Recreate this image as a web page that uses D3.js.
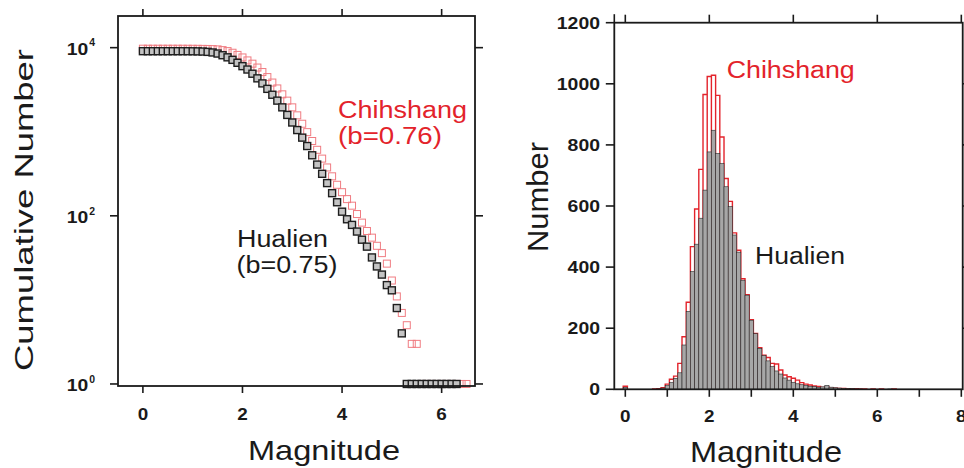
<!DOCTYPE html>
<html><head><meta charset="utf-8">
<script src="https://cdn.jsdelivr.net/npm/d3@7"></script>
<style>body{margin:0;background:#fff}svg{display:block}</style>
</head><body>
<svg id="c" width="964" height="468"></svg>
<script>
// ---------- DATA ----------
// Left panel: cumulative number N(>=M)
const cumMagHualien = [0.0,0.1,0.2,0.3,0.4,0.5,0.6,0.7,0.8,0.9,1.0,1.1,1.2,1.3,1.4,1.5,1.6,1.7,1.8,1.9,2.0,2.1,2.2,2.3,2.4,2.5,2.6,2.7,2.8,2.9,3.0,3.1,3.2,3.3,3.4,3.5,3.6,3.7,3.8,3.9,4.0,4.1,4.2,4.3,4.4,4.5,4.6,4.7,4.8,4.9,5.0,5.1,5.2,5.3,5.4,5.5,5.6,5.7,5.8,5.9,6.0,6.1,6.2,6.3];
const cumHualien = [9080,9074,9074,9074,9074,9074,9074,9074,9073,9069,9057,9036,8995,8913,8770,8511,8128,7674,7161,6607,6026,5495,4898,4315,3758,3236,2754,2344,1950,1585,1288,1047,851,676,525,407,316,245,186,145,112,91,78,65,52,43,32,25,20,15,13,8,4,1,1,1,1,1,1,1,1,1,1,1];
const cumMagChihshang = [0.0,0.1,0.2,0.3,0.4,0.5,0.6,0.7,0.8,0.9,1.0,1.1,1.2,1.3,1.4,1.5,1.6,1.7,1.8,1.9,2.0,2.1,2.2,2.3,2.4,2.5,2.6,2.7,2.8,2.9,3.0,3.1,3.2,3.3,3.4,3.5,3.6,3.7,3.8,3.9,4.0,4.1,4.2,4.3,4.4,4.5,4.6,4.7,4.8,4.9,5.0,5.1,5.2,5.3,5.4,5.5,5.6,5.7,5.8,5.9,6.0,6.1,6.2,6.3,6.4,6.5];
const cumChihshang = [9720,9712,9712,9712,9712,9712,9712,9711,9709,9705,9698,9688,9670,9650,9610,9540,9350,9100,8700,8200,7650,7050,6450,5800,5129,4467,3846,3273,2786,2344,1950,1567,1245,989,776,610,479,376,295,234,191,158,132,105,83,66,55,44,36,27,17,11,7,5,3,3,1,1,1,1,1,1,1,1,1,1];

// Right panel: histogram, bins of 0.1 centred on these magnitudes
const histBins = [0.0,0.1,0.2,0.3,0.4,0.5,0.6,0.7,0.8,0.9,1.0,1.1,1.2,1.3,1.4,1.5,1.6,1.7,1.8,1.9,2.0,2.1,2.2,2.3,2.4,2.5,2.6,2.7,2.8,2.9,3.0,3.1,3.2,3.3,3.4,3.5,3.6,3.7,3.8,3.9,4.0,4.1,4.2,4.3,4.4,4.5,4.6,4.7,4.8,4.9,5.0,5.1,5.2,5.3,5.4,5.5,5.6,5.7,5.8,5.9,6.0,6.1,6.2,6.3,6.4];
const histHualien = [6,0,0,0,0,0,0,0,1,4,12,22,36,54,145,255,385,475,560,652,777,848,772,739,663,598,505,449,357,308,226,182,134,110,93,74,60,50,37,30,23,18,15,13,10,9,6,8,13,7,5,4,3,2,2,1,1,0,0,0,0,0,0,1,0];
const histChihshang = [10,0,0,0,0,0,0,1,2,5,17,33,43,85,172,285,467,590,720,965,1024,1028,962,826,690,615,512,455,362,310,228,183,136,112,104,85,83,63,47,41,36,30,22,17,14,11,9,6,8,5,4,3,3,2,2,2,1,1,0,1,0,1,0,0,1];

// Tick labels
const leftXTicks = [0,2,4,6];
const leftYTicks = [1,100,10000];
const leftYExp = ["0","2","4"];
const rightXMajor = [0,2,4,6,8];
const rightXMinor = [0,1,2,3,4,5,6,7,8];
const rightYTicks = [0,200,400,600,800,1000,1200];

// ---------- DRAW ----------
const FONT = "'Liberation Sans', Arial, Helvetica, sans-serif";
const svg = d3.select("#c").attr("font-family", FONT);
const RED = "#e3232b";
const INK = "#1a1a1a";

function line(g, x1,y1,x2,y2,w){
  g.append("line").attr("x1",x1).attr("y1",y1).attr("x2",x2).attr("y2",y2)
   .attr("stroke",INK).attr("stroke-width",w||1.6);
}
function txt(g, s, x, y, o){
  const t = g.append("text").attr("x",x).attr("y",y).text(s)
    .attr("font-size",o.size).attr("fill",o.fill||INK)
    .attr("text-anchor",o.anchor||"start");
  if(o.bold) t.attr("font-weight","bold");
  if(o.len) t.attr("textLength",o.len).attr("lengthAdjust","spacingAndGlyphs");
  if(o.transform) t.attr("transform",o.transform);
  return t;
}

// ===== Left panel =====
const xL = d3.scaleLinear().domain([-0.5, 6.67]).range([118, 475]);
const yL = d3.scaleLog().domain([0.946, 23800]).range([386, 16]);
const gL = svg.append("g");

// markers: Chihshang (hollow red) below, Hualien (grey) on top
const S = 7;
gL.append("g").selectAll("rect").data(cumMagChihshang.map((m,i)=>[m,cumChihshang[i]]))
  .join("rect")
  .attr("x",d=>xL(d[0])-S/2).attr("y",d=>yL(d[1])-S/2)
  .attr("width",S).attr("height",S)
  .attr("fill","none").attr("stroke","#f07c82").attr("stroke-width",1);
gL.append("g").selectAll("rect").data(cumMagHualien.map((m,i)=>[m,cumHualien[i]]))
  .join("rect")
  .attr("x",d=>xL(d[0])-S/2).attr("y",d=>yL(d[1])-S/2)
  .attr("width",S).attr("height",S)
  .attr("fill","#c4c4c4").attr("stroke","#1e1e1e").attr("stroke-width",1.4);

// frame
gL.append("rect").attr("x",xL.range()[0]).attr("y",yL.range()[1])
  .attr("width",xL.range()[1]-xL.range()[0]).attr("height",yL.range()[0]-yL.range()[1])
  .attr("fill","none").attr("stroke",INK).attr("stroke-width",1.8);
// ticks
leftXTicks.forEach(v=>{
  line(gL, xL(v), yL.range()[0], xL(v), yL.range()[0]+7);
  line(gL, xL(v), yL.range()[1], xL(v), yL.range()[1]-7);
  txt(gL, String(v), xL(v), 420, {size:16,bold:true,anchor:"middle",len:10.5});
});
leftYTicks.forEach((v,i)=>{
  line(gL, xL.range()[0]-8, yL(v), xL.range()[0], yL(v));
  line(gL, xL.range()[1], yL(v), xL.range()[1]+8, yL(v));
  txt(gL, "10", 88.3, yL(v)+7, {size:17,bold:true,anchor:"end",len:21.5});
  txt(gL, leftYExp[i], 89.3, yL(v)-1.2, {size:10,bold:true,len:5.8});
});
// titles
txt(gL, "Cumulative Number", 0, 0, {size:25, anchor:"middle", len:322, transform:"translate(33.3,210) rotate(-90)"});
txt(gL, "Magnitude", 324, 460, {size:28, anchor:"middle", len:152});
// annotations
txt(gL, "Chihshang", 338, 118, {size:23, fill:RED, len:129});
txt(gL, "(b=0.76)", 338, 144, {size:23, fill:RED, len:104});
txt(gL, "Hualien", 237, 246.5, {size:23, len:91});
txt(gL, "(b=0.75)", 236.5, 273, {size:23, len:101});

// ===== Right panel =====
const xR = d3.scaleLinear().domain([-0.262, 8.033]).range([614.3, 962.7]);
const yR = d3.scaleLinear().domain([0, 1200]).range([389.3, 22.7]);
const gR = svg.append("g");
const hw = 0.05;

// Chihshang: red outlined bars (drawn first)
const redPath = d3.path();
histBins.forEach((c,i)=>{
  const v = histChihshang[i];
  if(v<=0) return;
  const x0 = xR(c-hw), x1 = xR(c+hw), y0 = yR(0), y1 = yR(v);
  redPath.rect(x0, y1, x1-x0, y0-y1);
});
gR.append("path").attr("d",redPath.toString()).attr("fill","none")
  .attr("stroke",RED).attr("stroke-width",1.4);

// Hualien: grey bars on top
gR.append("g").selectAll("rect").data(histBins.map((c,i)=>[c,histHualien[i]]).filter(d=>d[1]>0))
  .join("rect")
  .attr("x",d=>xR(d[0]-hw)).attr("y",d=>yR(d[1]))
  .attr("width",d=>xR(d[0]+hw)-xR(d[0]-hw)).attr("height",d=>yR(0)-yR(d[1]))
  .attr("fill","#a7a7a7").attr("stroke","#2a2a2a").attr("stroke-width",0.6);

// frame
gR.append("rect").attr("x",xR.range()[0]).attr("y",yR.range()[1])
  .attr("width",xR.range()[1]-xR.range()[0]).attr("height",yR.range()[0]-yR.range()[1])
  .attr("fill","none").attr("stroke",INK).attr("stroke-width",1.8);
line(gR, xR.range()[0], yR.range()[1], xR.range()[0], yR.range()[1]-8.5);
rightXMinor.forEach(v=>{
  line(gR, xR(v), yR(0), xR(v), yR(0)+7.5);
});
rightXMajor.forEach(v=>{
  line(gR, xR(v), yR.range()[1], xR(v), yR.range()[1]-8);
  txt(gR, String(v), xR(v), 421.5, {size:16,bold:true,anchor:"middle",len:10.5});
});
rightYTicks.forEach(v=>{
  line(gR, xR.range()[0]-8.5, yR(v), xR.range()[0], yR(v));
  if(v>0 && v<1200) line(gR, xR.range()[1], yR(v), xR.range()[1]+6, yR(v));
  const s = String(v);
  txt(gR, s, 600, yR(v)+6, {size:17,bold:true,anchor:"end",len:10.8*s.length});
});
txt(gR, "Number", 0, 0, {size:30, anchor:"middle", len:110, transform:"translate(548,197) rotate(-90)"});
txt(gR, "Magnitude", 766, 461.5, {size:30, anchor:"middle", len:152});
txt(gR, "Chihshang", 726.7, 78.3, {size:23, fill:RED, len:128});
txt(gR, "Hualien", 755, 264, {size:23, len:90});
</script>
</body></html>
